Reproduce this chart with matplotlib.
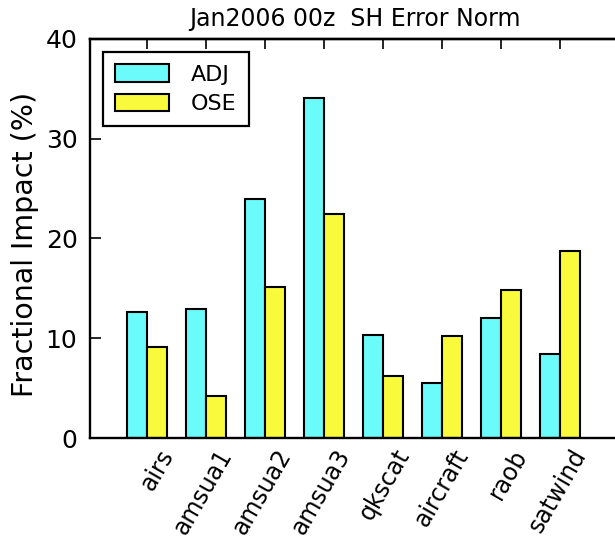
import matplotlib
matplotlib.use("Agg")
import matplotlib.pyplot as plt
import matplotlib.transforms as mtrans
import numpy as np

categories = ["airs", "amsua1", "amsua2", "amsua3", "qkscat", "aircraft", "raob", "satwind"]
adj = [12.6, 12.9, 24.0, 34.1, 10.3, 5.5, 12.0, 8.4]
ose = [9.1, 4.2, 15.1, 22.5, 6.2, 10.2, 14.8, 18.7]
series_names = ["ADJ", "OSE"]
title = "Jan2006 00z  SH Error Norm"
ylabel = "Fractional Impact (%)"

plt.rcParams['font.family'] = ['DejaVu Sans']

fig = plt.figure(figsize=(6.15, 5.41), dpi=100)
ax = fig.add_axes([90/615, 1 - 438/541, 0.908, 399/541])

x = np.arange(len(categories))
w = 0.345
cyan = "#6BFBFB"
yellow = "#FAFA3C"
ax.bar(x - w/2, adj, width=w, color=cyan, edgecolor="black", linewidth=1.5, label=series_names[0], zorder=2)
ax.bar(x + w/2, ose, width=w, color=yellow, edgecolor="black", linewidth=1.5, label=series_names[1], zorder=2)

ax.set_xlim(-0.964, 8.5)
ax.set_ylim(0, 40)
ax.set_yticks([0, 10, 20, 30, 40])
ax.tick_params(axis='y', direction='in', length=8, width=1.2, labelsize=18, pad=9)
ax.set_xticks(x)
ax.set_xticklabels([])
ax.tick_params(axis='x', length=0)

for s in ax.spines.values():
    s.set_linewidth(1.7)

top = ax.secondary_xaxis('top')
top.set_xticks(x)
top.set_xticklabels([])
top.tick_params(direction='in', length=7.5, width=1.2)
top.spines['top'].set_linewidth(1.7)

off = mtrans.ScaledTranslation(21/100, -13/100, fig.dpi_scale_trans)
for xi, lab in zip(x, categories):
    ax.text(xi, 0, lab, rotation=60, rotation_mode='anchor', ha='right', va='center',
            fontsize=17, transform=ax.get_xaxis_transform() + off)

ax.set_ylabel(ylabel, fontsize=20.5)
ax.yaxis.set_label_coords(-0.092, 0.486)
fig.text(355/615, 1 - 19/541, title, ha='center', va='center', fontsize=17)

leg = ax.legend(loc='upper left', bbox_to_anchor=(103/615, 1 - 52/541),
                bbox_transform=fig.transFigure, borderaxespad=0, fontsize=16,
                handlelength=2.4, handleheight=0.85, handletextpad=1.0,
                borderpad=0.55, labelspacing=0.4, fancybox=False, framealpha=1,
                edgecolor="black")
leg.get_frame().set_linewidth(1.6)
for p in leg.get_patches():
    p.set_linewidth(1.5)

fig.savefig("out.png", dpi=100)
